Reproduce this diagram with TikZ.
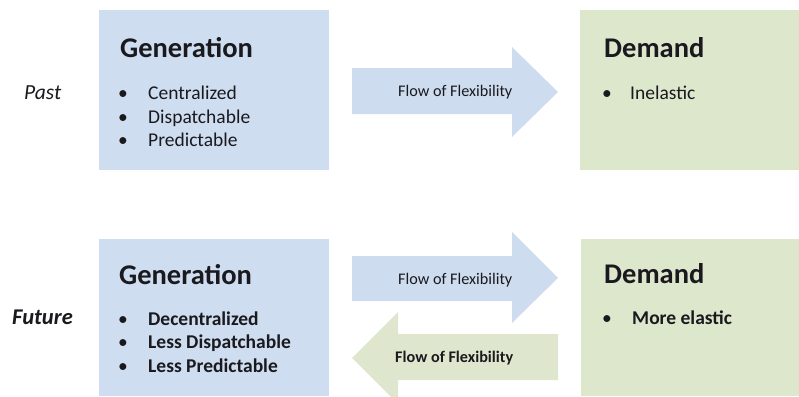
\documentclass[tikz,border=0pt]{standalone}
\usepackage{fontspec}
\setmainfont{Carlito}
\definecolor{genblue}{RGB}{207,221,240}
\definecolor{demgreen}{RGB}{221,231,204}
\definecolor{arrblue}{RGB}{206,220,239}
\definecolor{arrgreen}{RGB}{222,231,206}
\definecolor{ink}{RGB}{25,25,30}
\begin{document}
\begin{tikzpicture}[x=1pt,y=-1pt,
  title/.style={anchor=base west,inner sep=0pt,font=\fontsize{28.5}{31}\selectfont\bfseries,text=ink},
  item/.style={anchor=base west,inner sep=0pt,font=\fontsize{19.5}{22}\selectfont,text=ink},
  bitem/.style={item,font=\fontsize{19.5}{22}\selectfont\bfseries},
  bul/.style={anchor=base,inner sep=0pt,font=\fontsize{19.5}{22}\selectfont,text=ink},
  flow/.style={anchor=base west,inner sep=0pt,font=\fontsize{16.2}{18}\selectfont,text=ink},
  era/.style={anchor=base west,inner sep=0pt,font=\fontsize{21.5}{24}\selectfont\itshape,text=ink}]
\useasboundingbox (0,0) rectangle (799,396);
% boxes
\fill[genblue] (99,10) rectangle (329,170);
\fill[demgreen] (580,10) rectangle (799,170);
\fill[genblue] (99,239) rectangle (329,396);
\fill[demgreen] (581,239) rectangle (799,396);
% arrows
\fill[arrblue] (352,68) -- (512,68) -- (512,47) -- (558,92) -- (512,137) -- (512,114) -- (352,114) -- cycle;
\fill[arrblue] (352,256) -- (512,256) -- (512,232) -- (558,278) -- (512,323) -- (512,301) -- (352,301) -- cycle;
\fill[arrgreen] (558,334) -- (398,334) -- (398,312) -- (352,358) -- (398,404) -- (398,380) -- (558,380) -- cycle;
% era labels
\node[era] (past) at (24,99) {Past};
\node[era,font=\fontsize{22.5}{24}\selectfont\itshape\bfseries] (future) at (12,324) {Future};
% top generation
\node[title] (g1) at (120,57) {Generation};
\node[bul] (g1b1) at (123,99) {\textbullet};
\node[item] (g1i1) at (148,99) {Centralized};
\node[bul] (g1b2) at (123,123) {\textbullet};
\node[item] (g1i2) at (148,123) {Dispatchable};
\node[bul] (g1b3) at (123,146) {\textbullet};
\node[item] (g1i3) at (148,146) {Predictable};
% top demand
\node[title] (d1) at (604,57) {Demand};
\node[bul] (d1b1) at (607,99) {\textbullet};
\node[item] (d1i1) at (630,99) {Inelastic};
% flow labels
\node[flow] (f1) at (398,96) {Flow of Flexibility};
\node[flow] (f2) at (398,284) {Flow of Flexibility};
\node[flow,font=\fontsize{16.2}{18}\selectfont\bfseries] (f3) at (395,362) {Flow of Flexibility};
% bottom generation
\node[title] (g2) at (119,284) {Generation};
\node[bul] (g2b1) at (123,325) {\textbullet};
\node[bitem] (g2i1) at (148,325) {Decentralized};
\node[bul] (g2b2) at (123,348) {\textbullet};
\node[bitem] (g2i2) at (148,348) {Less Dispatchable};
\node[bul] (g2b3) at (123,372) {\textbullet};
\node[bitem] (g2i3) at (148,372) {Less Predictable};
% bottom demand
\node[title] (d2) at (604,283) {Demand};
\node[bul] (d2b1) at (607,324) {\textbullet};
\node[bitem] (d2i1) at (632,324) {More elastic};
\end{tikzpicture}
\end{document}
